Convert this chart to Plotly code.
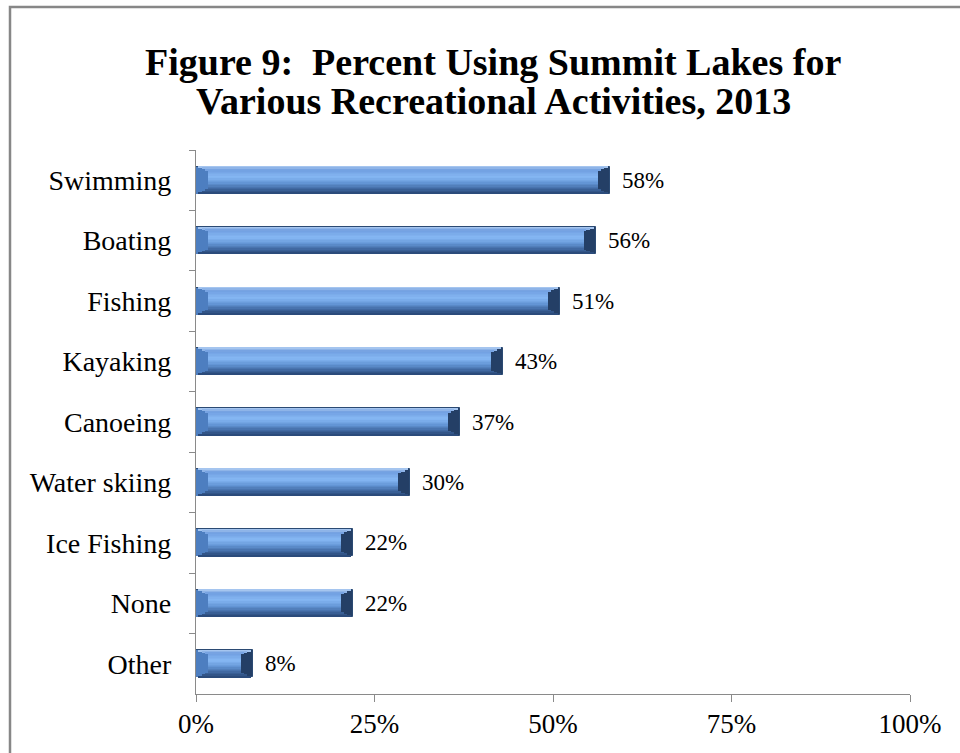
import plotly.graph_objects as go

# Survey results: share of respondents using Summit lakes for each activity
activities = ["Swimming", "Boating", "Fishing", "Kayaking", "Canoeing",
              "Water skiing", "Ice Fishing", "None", "Other"]
percent = [58, 56, 51, 43, 37, 30, 22, 22, 8]
tick_values = [0, 25, 50, 75, 100]
tick_labels = ["0%", "25%", "50%", "75%", "100%"]

SERIF = "Liberation Serif, Times New Roman, serif"
BAR_W = 0.45          # bar thickness in category units
CAP = 1.7             # bevel length at bar ends, axis units (%)
EDGE = 0.16           # bevel depth at top/bottom, fraction of thickness
N_BANDS = 20

# colour stops of the vertical gradient (0 = top edge, 1 = bottom edge)
stops = [(0.0, (176, 206, 242)), (0.14, (112, 158, 224)), (0.40, (134, 184, 244)),
         (0.62, (100, 150, 214)), (0.84, (62, 102, 158)), (1.0, (40, 70, 116))]


def grad(f):
    for (a, ca), (b, cb) in zip(stops, stops[1:]):
        if a <= f <= b:
            t = (f - a) / (b - a)
            c = [round(ca[i] + (cb[i] - ca[i]) * t) for i in range(3)]
            return f"rgb({c[0]},{c[1]},{c[2]})"
    return "rgb(40,70,116)"


n = len(percent)
fig = go.Figure()

# base bar (dark rim, also forms the right bevel)
fig.add_trace(go.Bar(
    y=activities, x=percent, orientation="h", width=BAR_W,
    marker=dict(color="#243f66", line=dict(color="#2b4a73", width=1)),
    hoverinfo="skip", showlegend=False,
))

# left bevel (medium blue)
fig.add_trace(go.Bar(
    y=activities, x=[CAP] * n, base=[0] * n,
    orientation="h", width=BAR_W, offset=-BAR_W / 2,
    marker=dict(color="#4d7ec0", line=dict(width=0)),
    hoverinfo="skip", showlegend=False,
))

# gradient bands: top/bottom bevel strips taper at the corners,
# the face between them is inset by the full bevel length
for k in range(N_BANDS):
    f0, f1 = k / N_BANDS, (k + 1) / N_BANDS
    fm = (f0 + f1) / 2
    inset = CAP * min(1.0, min(fm, 1 - fm) / EDGE)
    fig.add_trace(go.Bar(
        y=activities, x=[v - 2 * inset for v in percent],
        base=[inset] * n, orientation="h",
        width=(f1 - f0) * BAR_W * 1.03, offset=-BAR_W / 2 + f0 * BAR_W,
        marker=dict(color=grad(fm), line=dict(width=0)),
        hoverinfo="skip", showlegend=False,
    ))

# value labels
for a, v in zip(activities, percent):
    fig.add_annotation(
        x=v, y=a, text=f"{v}%", showarrow=False, xanchor="left",
        xshift=10, font=dict(family=SERIF, size=23, color="black"),
    )

L, R, T, B = 196, 50, 150, 59
pw, ph = 960 - L - R, 753 - T - B

# two-line title
for line, py in [("Figure 9:&nbsp; Percent Using Summit Lakes for", 62),
                 ("Various Recreational Activities, 2013", 101)]:
    fig.add_annotation(
        xref="paper", yref="paper", x=(493 - L) / pw, y=(694 - py) / ph,
        xanchor="center", yanchor="middle", showarrow=False,
        text=f"<b>{line}</b>",
        font=dict(family=SERIF, size=38, color="black"),
    )

# outer chart frame
fig.add_shape(
    type="rect", xref="paper", yref="paper",
    x0=(10 - L) / pw, x1=(970 - L) / pw,
    y0=(694 - 765) / ph, y1=(694 - 7) / ph,
    line=dict(color="#878787", width=2.5), fillcolor="rgba(0,0,0,0)",
    layer="below",
)

fig.update_layout(
    width=960, height=753,
    margin=dict(l=L, r=R, t=T, b=B),
    barmode="overlay",
    bargap=0,
    paper_bgcolor="white", plot_bgcolor="white",
    xaxis=dict(
        range=[0, 100], tickvals=tick_values, ticktext=tick_labels,
        showgrid=False, zeroline=False,
        showline=True, linecolor="#8a8a8a", linewidth=1.2,
        ticks="outside", ticklen=7, tickcolor="#8a8a8a", tickwidth=1.2,
        tickfont=dict(family=SERIF, size=27, color="black"),
        ticklabelstandoff=-2,
    ),
    yaxis=dict(
        type="category", categoryorder="array", categoryarray=activities,
        autorange="reversed",
        showgrid=False, zeroline=False,
        showline=True, linecolor="#8a8a8a", linewidth=1.2,
        ticks="outside", ticklen=6, tickcolor="#8a8a8a", tickwidth=1.2,
        tickson="boundaries",
        tickfont=dict(family=SERIF, size=28, color="black"),
        ticklabelstandoff=18,
    ),
)

fig.write_html("out.html")
